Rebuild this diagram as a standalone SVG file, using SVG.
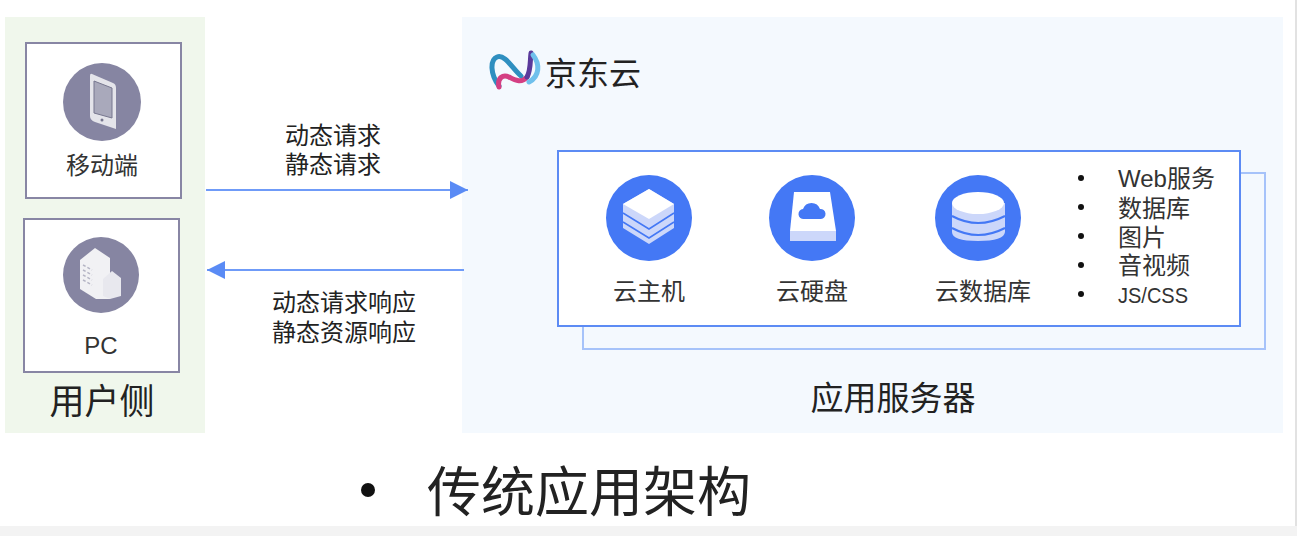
<svg xmlns="http://www.w3.org/2000/svg" width="1297" height="536" viewBox="0 0 1297 536">
<defs>
<style>
text{font-family:"Liberation Sans","Noto Sans CJK SC",sans-serif;fill:#222}
.l{font-size:24px;text-anchor:middle;fill:#333}
.m{font-size:24px;text-anchor:middle;fill:#222}
.b{font-size:24px;fill:#333}
.box{fill:#fff;stroke:#8886a4;stroke-width:2}
.gc{fill:#8685a2}
.bc{fill:#4478f5}
.ln{stroke:#6f9bf8;stroke-width:2;fill:none}
.win{stroke:#b5b5c5;stroke-width:1.5;fill:none;stroke-dasharray:3 2}
.lg{fill:none;stroke-width:5;stroke-linecap:round}
</style>
<marker id="a" markerUnits="userSpaceOnUse" markerWidth="20" markerHeight="18" refX="18" refY="9" orient="auto"><path d="M0 0L18 9L0 18Z" fill="#5a8bf5"/></marker>
</defs>
<rect x="0" y="0" width="1297" height="536" fill="#fff"/>
<rect x="1295" y="0" width="2" height="536" fill="#e2e2e2"/>
<rect x="0" y="526" width="1297" height="10" fill="#f3f3f3"/>
<rect x="5" y="17" width="200" height="416" fill="#f0f7ec"/>
<rect x="462" y="17" width="821" height="416" fill="#f4f9fe"/>

<g id="node-mobile">
<rect class="box" x="26" y="43" width="155" height="155"/>
<circle class="gc" cx="102" cy="102" r="39"/>
<path d="M92 74L113 83Q116 84 116 88V129L95 122Q90 120 90 116V76Q90 73 92 74Z" fill="#e4e4ea"/>
<path d="M94 81L112 88V118L94 113Z" fill="#a9a9bb" stroke="#77778f"/>
<circle cx="102" cy="120" r="1.5" fill="#77778f"/>
<text class="l" x="102" y="174">移动端</text>
</g>
<g id="node-pc">
<rect class="box" x="24" y="219" width="155" height="153"/>
<circle class="gc" cx="101" cy="275" r="38"/>
<path d="M80 260L95 248L110 258V299L96 299L80 289Z" fill="#f1f1f4"/>
<path d="M83 265L92 270M83 270L92 275M83 275L92 280M83 280L92 285" class="win"/>
<path d="M103 279L112 271L121 278V296L110 299L103 296Z" fill="#e8e8ee"/>
<text class="l" x="101" y="354">PC</text>
</g>
<g id="label-user"><text x="102" y="414" font-size="35" text-anchor="middle" fill="#1c1c1c">用户侧</text></g>

<g id="connectors">
<line class="ln" x1="206" y1="190" x2="468" y2="190" marker-end="url(#a)"/>
<line class="ln" x1="464" y1="270" x2="207" y2="270" marker-end="url(#a)"/>
<path d="M1241 173H1265V349H583V326" fill="none" stroke="#a6c3fa" stroke-width="2"/>
</g>
<g id="labels-arrows">
<text class="m" x="333" y="144">动态请求</text>
<text class="m" x="333" y="173">静态请求</text>
<text class="m" x="344" y="311">动态请求响应</text>
<text class="m" x="344" y="341">静态资源响应</text>
</g>

<g id="logo">
<path class="lg" d="M499 86C490 74 490 60 497 57C505 54 512 68 521 76" stroke="#2f8fc0"/>
<path class="lg" d="M499 87C497 78 503 74 509 77C516 81 522 83 527 77" stroke="#d43f83"/>
<path class="lg" d="M527 77C531 70 530 60 531 53" stroke="#5a3a9c"/>
<path class="lg" d="M533 55C540 64 540 76 529 82" stroke="#6fc0ec"/>
<text x="545" y="85" font-size="32" fill="#555">京东云</text>
</g>

<g id="server">
<rect x="558" y="151" width="682" height="175" fill="#fff" stroke="#5c8bf4" stroke-width="2"/>
</g>
<g id="node-host">
<circle class="bc" cx="649" cy="218" r="43"/>
<path d="M649 189L674 204V228L649 244L623 228V204Z" fill="#ccd7fa"/>
<path d="M623 213L649 229L674 213M623 222L649 238L674 222" fill="none" stroke="#4478f5" stroke-width="1.5"/>
<path d="M649 189L674 204L649 219L623 204Z" fill="#fff"/>
<text class="l" x="649" y="300">云主机</text>
</g>
<g id="node-disk">
<circle class="bc" cx="812" cy="218" r="43"/>
<path d="M794 192H830L836 231H790Z" fill="#fff"/>
<rect x="790" y="231" width="46" height="10" fill="#ccd7fa"/>
<path d="M804 219a5 5 0 0 1-1-10a9 9 0 0 1 17 0a5 5 0 0 1 1 10Z" fill="#4478f5"/>
<text class="l" x="812" y="300">云硬盘</text>
</g>
<g id="node-db">
<circle class="bc" cx="978" cy="218" r="43"/>
<path d="M952 203V232Q952 241 978 241T1005 232V203Z" fill="#ccd7fa"/>
<ellipse cx="978" cy="203" rx="26" ry="11" fill="#fff"/>
<path d="M952 216Q978 230 1005 216M952 228Q978 242 1005 228" fill="none" stroke="#4478f5" stroke-width="2"/>
<text class="l" x="983" y="300">云数据库</text>
</g>
<g id="list">
<g fill="#111"><circle cx="1081" cy="178" r="3"/><circle cx="1081" cy="207" r="3"/><circle cx="1081" cy="236" r="3"/><circle cx="1081" cy="265" r="3"/><circle cx="1081" cy="294" r="3"/></g>
<text class="b" x="1118" y="187">Web服务</text>
<text class="b" x="1118" y="217">数据库</text>
<text class="b" x="1118" y="246">图片</text>
<text class="b" x="1118" y="274">音视频</text>
<text class="b" x="1118" y="303" style="font-size:22px" textLength="70" lengthAdjust="spacingAndGlyphs">JS/CSS</text>
</g>
<g id="label-server"><text x="893" y="410" font-size="33" text-anchor="middle" fill="#1c1c1c">应用服务器</text></g>
<g id="title">
<circle cx="368" cy="490" r="7" fill="#111"/>
<text x="427" y="512" font-size="54" fill="#1a1a1a">传统应用架构</text>
</g>
</svg>
